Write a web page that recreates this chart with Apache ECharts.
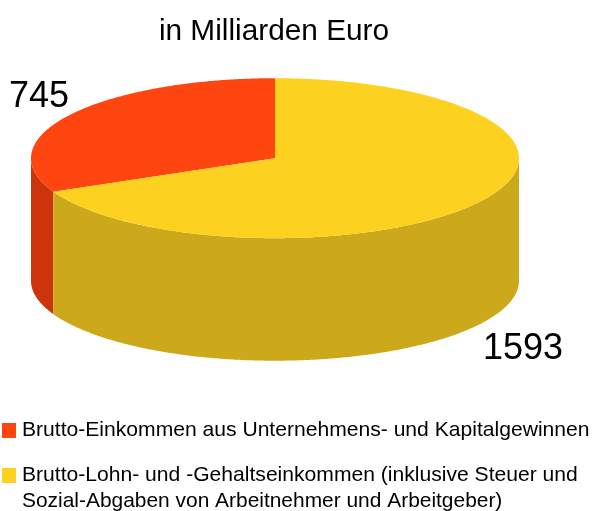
<!DOCTYPE html>
<html>
<head>
<meta charset="utf-8">
<style>html,body{margin:0;padding:0;background:#fff}#c{width:594px;height:511px}</style>
<script src="https://cdn.jsdelivr.net/npm/echarts@6/dist/echarts.min.js"></script>
</head>
<body>
<div id="c"></div>
<script>
var titleText = 'in Milliarden Euro';
var categories = [
  'Brutto-Einkommen aus Unternehmens- und Kapitalgewinnen',
  'Brutto-Lohn- und -Gehaltseinkommen (inklusive Steuer und\nSozial-Abgaben von Arbeitnehmer und Arbeitgeber)'
];
var values = [745, 1593];
var topColors = ['#ff4510', '#fdd120'];
var sideColors = ['#cc350b', '#cca91a'];

var total = values[0] + values[1];
var FONT = '"Liberation Sans", Arial, sans-serif';
var G = { cx: 275, cy: 158.2, rx: 244, ry: 80, depth: 122.5 };

function pt(deg, dy) {
  var r = deg * Math.PI / 180;
  return [G.cx + G.rx * Math.sin(r), G.cy - G.ry * Math.cos(r) + (dy || 0)];
}
function arc(a0, a1, dy) {
  var pts = [], n = Math.max(2, Math.ceil(Math.abs(a1 - a0) * 2));
  for (var i = 0; i <= n; i++) pts.push(pt(a0 + (a1 - a0) * i / n, dy));
  return pts;
}
// Slices run clockwise from 12 o'clock: the second value first, then the first.
var spans = [
  [values[1] / total * 360, 360],
  [0, values[1] / total * 360]
];
var labelPlace = [
  { x: 39, y: 97 },
  { x: 523, y: 349 }
];

function sliceSeries(i) {
  return {
    type: 'custom',
    name: categories[i],
    coordinateSystem: 'none',
    silent: true,
    z: 2,
    itemStyle: { color: topColors[i] },
    data: [values[i]],
    renderItem: function () {
      var a0 = spans[i][0], a1 = spans[i][1];
      var children = [];
      var w0 = Math.max(a0, 90), w1 = Math.min(a1, 270);
      if (w1 > w0) {
        var wall = arc(w0, w1, 0).concat(arc(w1, w0, G.depth));
        children.push({ type: 'polygon', shape: { points: wall }, style: { fill: sideColors[i] } });
      }
      var top = [[G.cx, G.cy]].concat(arc(a0, a1, 0));
      children.push({ type: 'polygon', shape: { points: top }, style: { fill: topColors[i] } });
      children.push({
        type: 'text', z2: 10,
        style: {
          x: labelPlace[i].x, y: labelPlace[i].y, text: String(values[i]),
          fill: '#000', font: '36px ' + FONT, align: 'center', verticalAlign: 'middle'
        }
      });
      return { type: 'group', children: children };
    }
  };
}

function legendAt(i, top) {
  return {
    show: true, left: 2, top: top, orient: 'vertical', selectedMode: false,
    icon: 'rect', itemWidth: 14, itemHeight: 15, itemGap: 0,
    padding: 0,
    data: [categories[i]],
    formatter: function (n) { return n.split('\n')[0]; },
    textStyle: { fontFamily: FONT, fontSize: 21.1, color: '#000', padding: [0, 0, 0, 1] }
  };
}

var chart = echarts.init(document.getElementById('c'), null, { renderer: 'canvas' });
chart.setOption({
  animation: false,
  backgroundColor: '#fff',
  title: {
    text: titleText, left: 274, top: 17, textAlign: 'center', padding: 0,
    textStyle: { fontFamily: FONT, fontSize: 29.8, fontWeight: 'normal', color: '#000' }
  },
  legend: [legendAt(0, 420), legendAt(1, 465)],
  graphic: [{
    type: 'text', left: 22, top: 491,
    style: { text: categories[1].split('\n')[1], fill: '#000', font: '20.93px ' + FONT }
  }],
  series: [sliceSeries(0), sliceSeries(1)]
});
</script>
</body>
</html>
